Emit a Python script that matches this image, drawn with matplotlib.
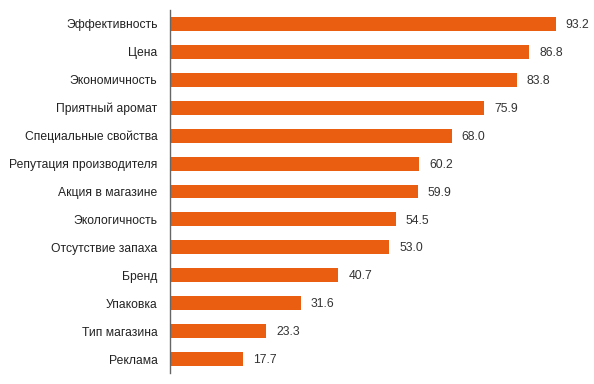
import matplotlib
matplotlib.use("Agg")
import matplotlib.pyplot as plt

categories = ["Эффективность", "Цена", "Экономичность", "Приятный аромат",
              "Специальные свойства", "Репутация производителя", "Акция в магазине",
              "Экологичность", "Отсутствие запаха", "Бренд", "Упаковка",
              "Тип магазина", "Реклама"]
values = [93.2, 86.8, 83.8, 75.9, 68.0, 60.2, 59.9, 54.5, 53.0, 40.7, 31.6, 23.3, 17.7]

plt.rcParams['font.family'] = ['Liberation Sans', 'DejaVu Sans']

fig = plt.figure(figsize=(5.94, 3.84), dpi=100)
ax = fig.add_axes([170/594, 11/384, (584-170)/594, 363/384])

y = list(range(len(categories)))
ax.barh(y, values, height=0.5, color="#E95E10")
for yi, v in zip(y, values):
    ax.text(v + 2.4, yi + 0.04, f"{v:.1f}", va="center", ha="left", fontsize=8.7, color="#333333")

ax.set_yticks(y)
ax.set_yticklabels(categories, fontsize=8.7, color="#222222")
ax.set_ylim(len(categories) - 0.5, -0.5)
ax.set_xlim(0, 100)
ax.tick_params(axis="y", length=0, pad=9)
ax.set_xticks([])
for s in ["top", "right", "bottom"]:
    ax.spines[s].set_visible(False)
ax.spines["left"].set_color("#666666")
ax.spines["left"].set_linewidth(1)

fig.savefig("out.png", dpi=100)
